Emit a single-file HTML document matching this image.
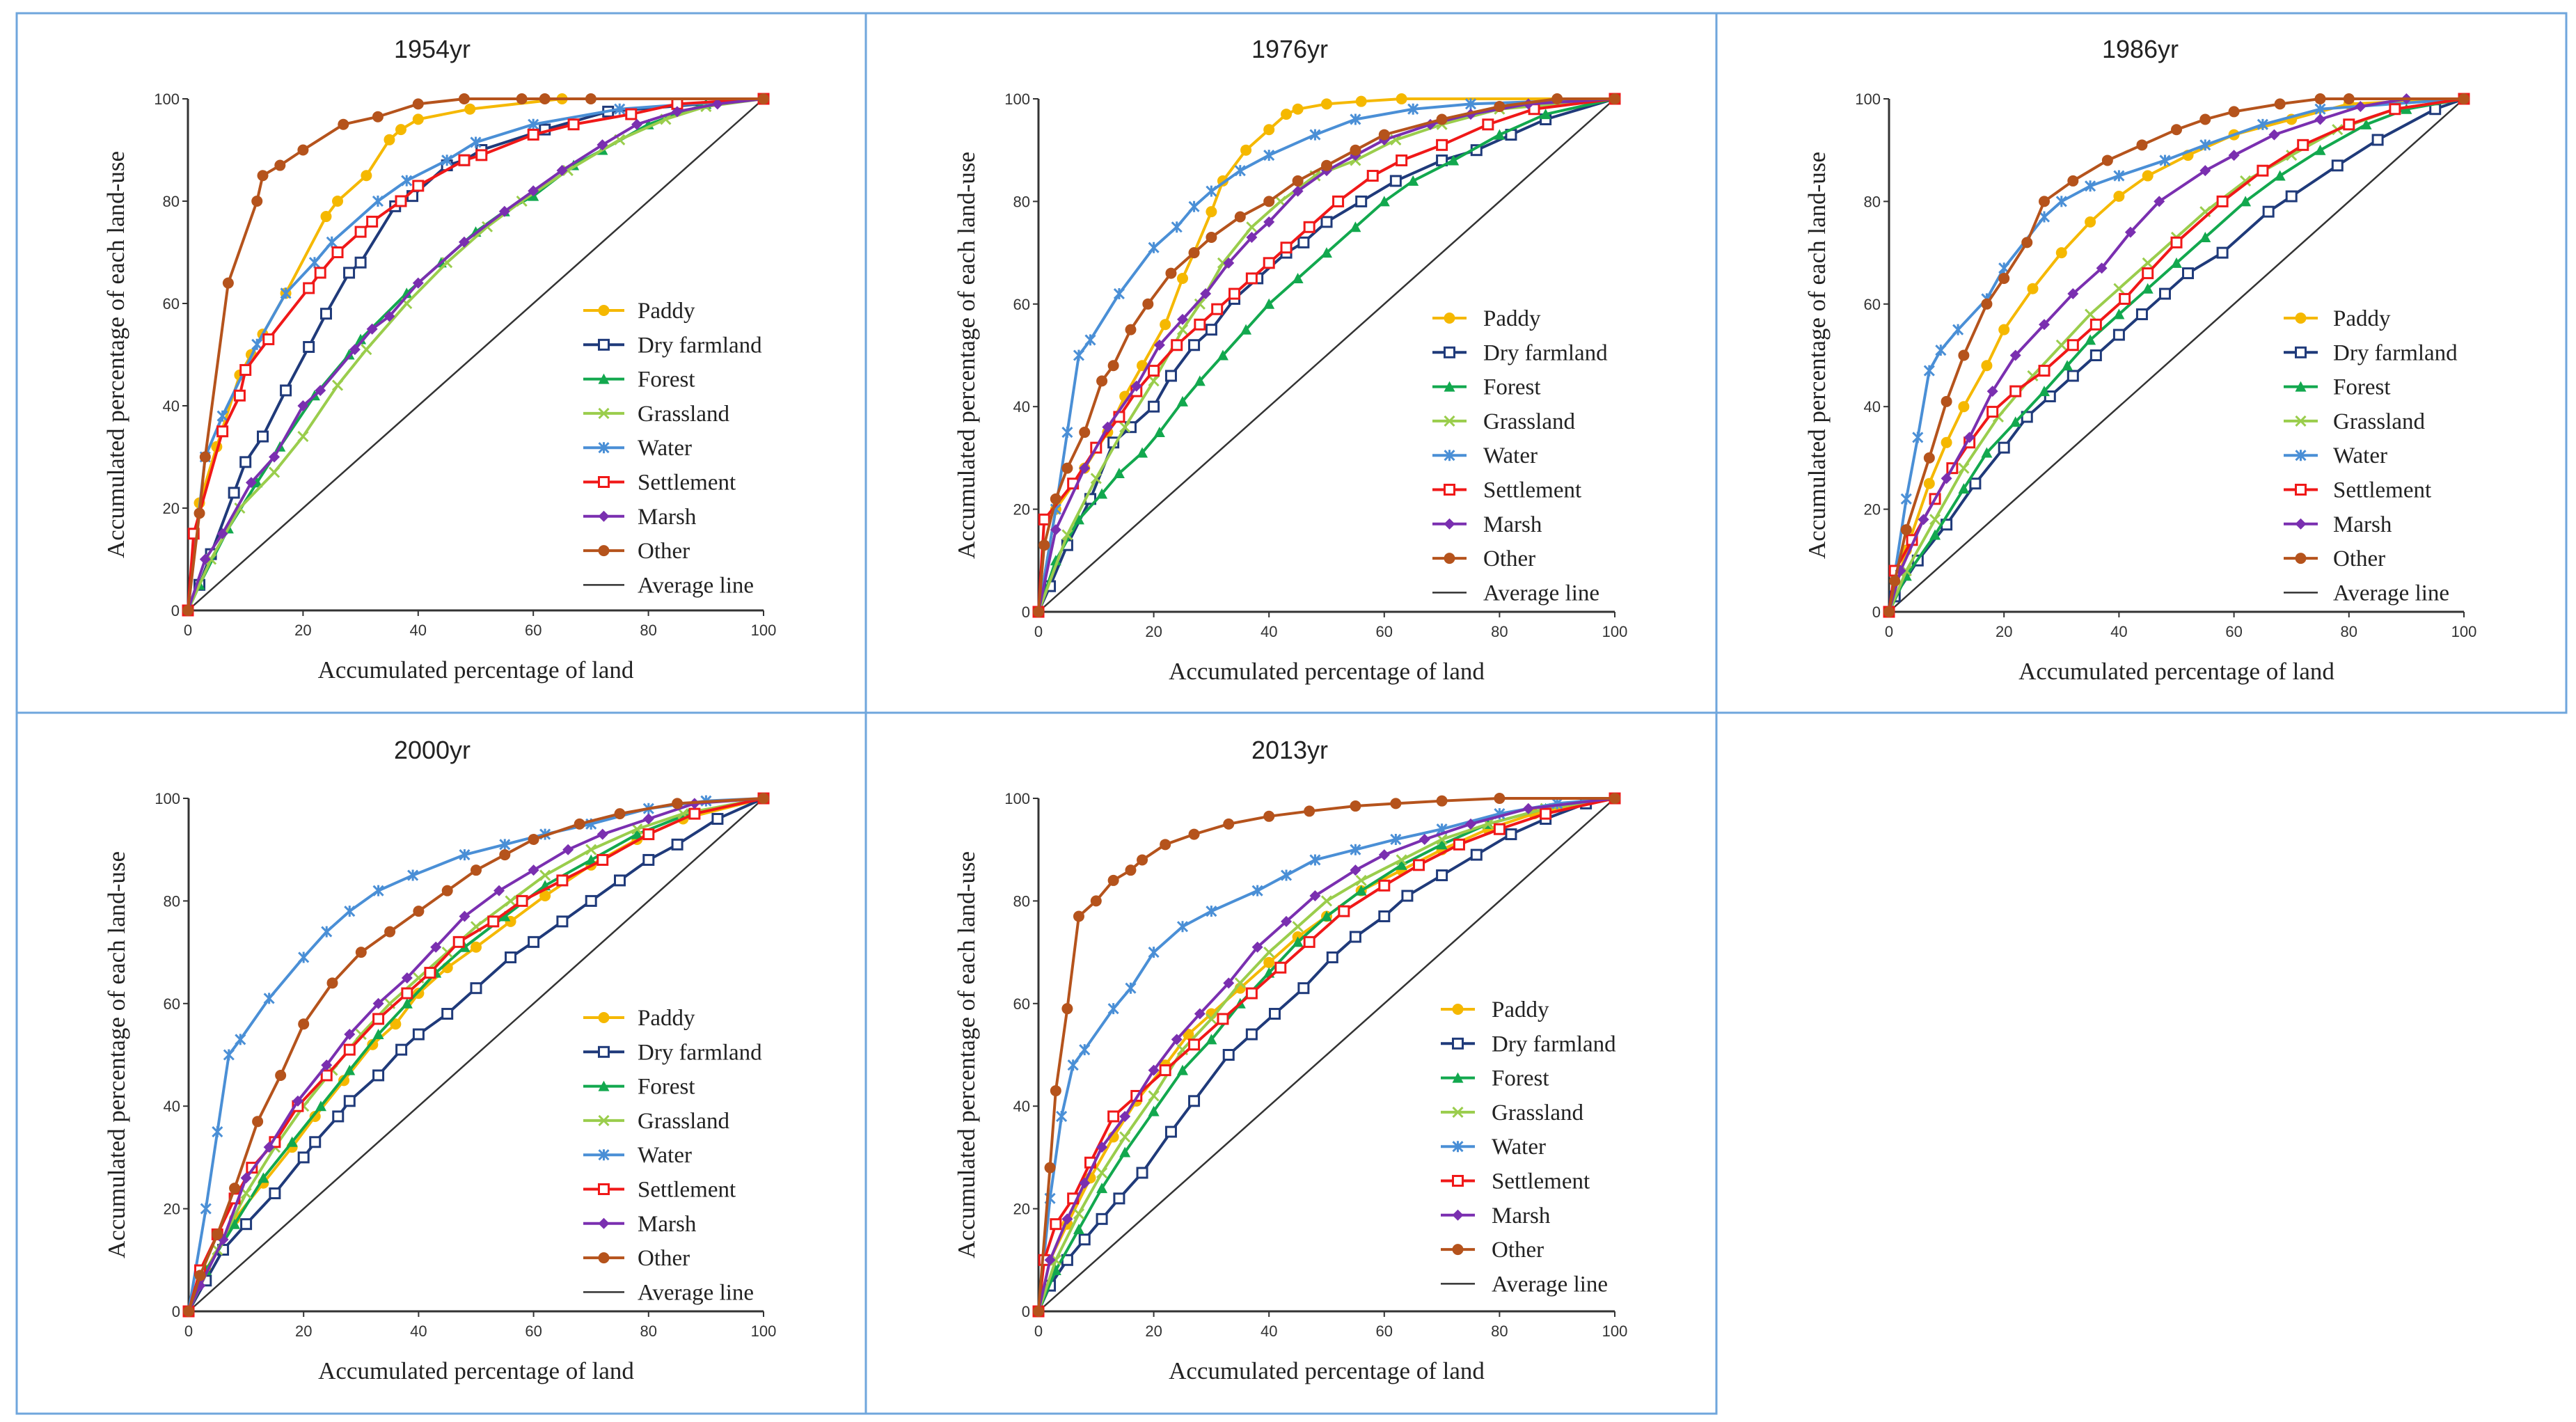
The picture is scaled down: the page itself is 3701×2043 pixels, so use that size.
<!DOCTYPE html>
<html><head><meta charset="utf-8">
<style>
html,body{margin:0;padding:0;background:#fff;}
svg{display:block;}
</style></head>
<body>
<svg id="fig" width="3701" height="2043" viewBox="0 0 3701 2043" xmlns="http://www.w3.org/2000/svg">
<rect x="0" y="0" width="3701" height="2043" fill="#fff"/>
</svg>
<script>
const seriesNames = ["Paddy","Dry farmland","Forest","Grassland","Water","Settlement","Marsh","Other"];
const xTicks = [0,20,40,60,80,100];
const yTicks = [0,20,40,60,80,100];
const panelTitles = ["1954yr","1976yr","1986yr","2000yr","2013yr"];

// 1954
const y1954_paddy = [[0,0],[2,21],[5,32],[9,46],[11,50],[13,54],[17,62],[24,77],[26,80],[31,85],[35,92],[37,94],[40,96],[49,98],[65,100],[100,100]];
const y1954_dry = [[0,0],[2,5],[4,11],[8,23],[10,29],[13,34],[17,43],[21,51.5],[24,58],[28,66],[30,68],[36,79],[39,81],[45,87],[48,88],[51,90],[62,94],[73,97.5],[100,100]];
const y1954_forest = [[0,0],[2,5],[7,16],[12,25],[16,32],[22,42],[28,50],[30,53],[38,62],[44,68],[50,74],[55,78],[60,81],[67,87],[72,90],[80,95],[90,99],[100,100]];
const y1954_grass = [[0,0],[4,10],[9,20],[15,27],[20,34],[26,44],[31,51],[38,60],[45,68],[52,75],[58,80],[66,86],[75,92],[83,96],[90,98.5],[100,100]];
const y1954_water = [[0,0],[3,30],[6,38],[12,52],[17,62],[22,68],[25,72],[33,80],[38,84],[45,88],[50,91.5],[60,95],[75,98],[100,100]];
const y1954_settle = [[0,0],[1,15],[6,35],[9,42],[10,47],[14,53],[21,63],[23,66],[26,70],[30,74],[32,76],[37,80],[40,83],[48,88],[51,89],[60,93],[67,95],[77,97],[85,99],[100,100]];
const y1954_marsh = [[0,0],[3,10],[6,15],[11,25],[15,30],[20,40],[23,43],[29,51],[32,55],[35,57.5],[40,64],[48,72],[55,78],[60,82],[65,86],[72,91],[78,95],[85,97.5],[92,99],[100,100]];
const y1954_other = [[0,0],[2,19],[3,30],[7,64],[12,80],[13,85],[16,87],[20,90],[27,95],[33,96.5],[40,99],[48,100],[58,100],[62,100],[70,100],[100,100]];

// 1976
const y1976_paddy = [[0,0],[3,20],[8,28],[12,35],[15,42],[18,48],[22,56],[25,65],[27,70],[30,78],[32,84],[36,90],[40,94],[43,97],[45,98],[50,99],[56,99.5],[63,100],[100,100]];
const y1976_dry = [[0,0],[2,5],[5,13],[9,22],[13,33],[16,36],[20,40],[23,46],[27,52],[30,55],[34,61],[38,65],[43,70],[46,72],[50,76],[56,80],[62,84],[70,88],[76,90],[82,93],[88,96],[100,100]];
const y1976_forest = [[0,0],[3,10],[7,18],[11,23],[14,27],[18,31],[21,35],[25,41],[28,45],[32,50],[36,55],[40,60],[45,65],[50,70],[55,75],[60,80],[65,84],[72,88],[80,93],[88,97],[100,100]];
const y1976_grass = [[0,0],[5,15],[10,26],[15,36],[20,45],[25,55],[28,60],[32,68],[37,75],[42,80],[48,85],[55,88],[62,92],[70,95],[80,98],[100,100]];
const y1976_water = [[0,0],[3,20],[5,35],[7,50],[9,53],[14,62],[20,71],[24,75],[27,79],[30,82],[35,86],[40,89],[48,93],[55,96],[65,98],[75,99],[100,100]];
const y1976_settle = [[0,0],[1,18],[6,25],[10,32],[14,38],[17,43],[20,47],[24,52],[28,56],[31,59],[34,62],[37,65],[40,68],[43,71],[47,75],[52,80],[58,85],[63,88],[70,91],[78,95],[86,98],[100,100]];
const y1976_marsh = [[0,0],[3,16],[8,28],[12,36],[17,44],[21,52],[25,57],[29,62],[33,68],[37,73],[40,76],[45,82],[50,86],[55,89],[60,92],[68,95],[75,97],[85,99],[100,100]];
const y1976_other = [[0,0],[1,13],[3,22],[5,28],[8,35],[11,45],[13,48],[16,55],[19,60],[23,66],[27,70],[30,73],[35,77],[40,80],[45,84],[50,87],[55,90],[60,93],[70,96],[80,98.5],[90,100],[100,100]];

// 1986
const y1986_paddy = [[0,0],[3,12],[7,25],[10,33],[13,40],[17,48],[20,55],[25,63],[30,70],[35,76],[40,81],[45,85],[52,89],[60,93],[70,96],[80,99],[100,100]];
const y1986_dry = [[0,0],[1,3],[5,10],[10,17],[15,25],[20,32],[24,38],[28,42],[32,46],[36,50],[40,54],[44,58],[48,62],[52,66],[58,70],[66,78],[70,81],[78,87],[85,92],[95,98],[100,100]];
const y1986_forest = [[0,0],[3,7],[8,15],[13,24],[17,31],[22,37],[27,43],[31,48],[35,53],[40,58],[45,63],[50,68],[55,73],[62,80],[68,85],[75,90],[83,95],[90,98],[100,100]];
const y1986_grass = [[0,0],[3,8],[8,18],[13,28],[19,38],[25,46],[30,52],[35,58],[40,63],[45,68],[50,73],[55,78],[62,84],[70,89],[78,94],[88,98],[100,100]];
const y1986_water = [[0,0],[3,22],[5,34],[7,47],[9,51],[12,55],[17,61],[20,67],[27,77],[30,80],[35,83],[40,85],[48,88],[55,91],[65,95],[75,98],[100,100]];
const y1986_settle = [[0,0],[1,8],[4,14],[8,22],[11,28],[14,33],[18,39],[22,43],[27,47],[32,52],[36,56],[41,61],[45,66],[50,72],[58,80],[65,86],[72,91],[80,95],[88,98],[100,100]];
const y1986_marsh = [[0,0],[2,8],[6,18],[10,26],[14,34],[18,43],[22,50],[27,56],[32,62],[37,67],[42,74],[47,80],[55,86],[60,89],[67,93],[75,96],[82,98.5],[90,100],[100,100]];
const y1986_other = [[0,0],[1,6],[3,16],[7,30],[10,41],[13,50],[17,60],[20,65],[24,72],[27,80],[32,84],[38,88],[44,91],[50,94],[55,96],[60,97.5],[68,99],[75,100],[80,100],[100,100]];

// 2000
const y2000_paddy = [[0,0],[3,8],[8,18],[13,25],[18,32],[22,38],[27,45],[32,52],[36,56],[40,62],[45,67],[50,71],[56,76],[62,81],[70,87],[78,92],[86,96],[100,100]];
const y2000_dry = [[0,0],[3,6],[6,12],[10,17],[15,23],[20,30],[22,33],[26,38],[28,41],[33,46],[37,51],[40,54],[45,58],[50,63],[56,69],[60,72],[65,76],[70,80],[75,84],[80,88],[85,91],[92,96],[100,100]];
const y2000_forest = [[0,0],[3,8],[8,17],[13,26],[18,33],[23,40],[28,47],[33,54],[38,60],[43,66],[48,71],[55,77],[62,83],[70,88],[78,93],[87,97],[100,100]];
const y2000_grass = [[0,0],[5,12],[10,23],[15,32],[20,40],[25,47],[30,54],[35,60],[40,65],[45,70],[50,75],[56,80],[62,85],[70,90],[78,94],[86,97],[100,100]];
const y2000_water = [[0,0],[3,20],[5,35],[7,50],[9,53],[14,61],[20,69],[24,74],[28,78],[33,82],[39,85],[48,89],[55,91],[62,93],[70,95],[80,98],[90,99.5],[100,100]];
const y2000_settle = [[0,0],[2,8],[5,15],[8,22],[11,28],[15,33],[19,40],[24,46],[28,51],[33,57],[38,62],[42,66],[47,72],[53,76],[58,80],[65,84],[72,88],[80,93],[88,97],[100,100]];
const y2000_marsh = [[0,0],[2,5],[6,14],[10,26],[14,32],[19,41],[24,48],[28,54],[33,60],[38,65],[43,71],[48,77],[54,82],[60,86],[66,90],[72,93],[80,96],[88,99],[100,100]];
const y2000_other = [[0,0],[2,7],[5,15],[8,24],[12,37],[16,46],[20,56],[25,64],[30,70],[35,74],[40,78],[45,82],[50,86],[55,89],[60,92],[68,95],[75,97],[85,99],[100,100]];

// 2013
const y2013_paddy = [[0,0],[2,10],[5,17],[9,26],[13,34],[17,41],[22,48],[26,54],[30,58],[35,63],[40,68],[45,73],[50,77],[56,82],[63,86],[70,90],[78,94],[86,97],[100,100]];
const y2013_dry = [[0,0],[2,5],[5,10],[8,14],[11,18],[14,22],[18,27],[23,35],[27,41],[33,50],[37,54],[41,58],[46,63],[51,69],[55,73],[60,77],[64,81],[70,85],[76,89],[82,93],[88,96],[95,99],[100,100]];
const y2013_forest = [[0,0],[3,8],[7,16],[11,24],[15,31],[20,39],[25,47],[30,53],[35,60],[40,66],[45,72],[50,77],[56,82],[63,87],[70,91],[78,95],[88,98],[100,100]];
const y2013_grass = [[0,0],[3,10],[7,19],[11,27],[15,34],[20,42],[25,51],[30,57],[35,64],[40,70],[45,75],[50,80],[56,84],[63,88],[70,92],[78,95],[88,98],[100,100]];
const y2013_water = [[0,0],[2,22],[4,38],[6,48],[8,51],[13,59],[16,63],[20,70],[25,75],[30,78],[38,82],[43,85],[48,88],[55,90],[62,92],[70,94],[80,97],[90,99],[100,100]];
const y2013_settle = [[0,0],[1,10],[3,17],[6,22],[9,29],[13,38],[17,42],[22,47],[27,52],[32,57],[37,62],[42,67],[47,72],[53,78],[60,83],[66,87],[73,91],[80,94],[88,97],[100,100]];
const y2013_marsh = [[0,0],[2,10],[5,18],[8,25],[11,32],[15,38],[20,47],[24,53],[28,58],[33,64],[38,71],[43,76],[48,81],[55,86],[60,89],[67,92],[75,95],[85,98],[100,100]];
const y2013_other = [[0,0],[2,28],[3,43],[5,59],[7,77],[10,80],[13,84],[16,86],[18,88],[22,91],[27,93],[33,95],[40,96.5],[47,97.5],[55,98.5],[62,99],[70,99.5],[80,100],[100,100]];

const panelData = [
  [y1954_paddy,y1954_dry,y1954_forest,y1954_grass,y1954_water,y1954_settle,y1954_marsh,y1954_other],
  [y1976_paddy,y1976_dry,y1976_forest,y1976_grass,y1976_water,y1976_settle,y1976_marsh,y1976_other],
  [y1986_paddy,y1986_dry,y1986_forest,y1986_grass,y1986_water,y1986_settle,y1986_marsh,y1986_other],
  [y2000_paddy,y2000_dry,y2000_forest,y2000_grass,y2000_water,y2000_settle,y2000_marsh,y2000_other],
  [y2013_paddy,y2013_dry,y2013_forest,y2013_grass,y2013_water,y2013_settle,y2013_marsh,y2013_other]
];

const colors = ["#f5b800","#1f3a7a","#12a84e","#9acd4c","#4a8fd6","#f01818","#7a2fb0","#b5531c"];
const markers = ["circle","opensq","tri","x","star","opensq","diamond","circle"];
const layout = [
  {ox:270,x1:1097,oy:877,y1:142,title:[621,71],leg:[838,897,916,446],bx:[24,1244],by:[19,1024]},
  {ox:1492,x1:2320,oy:879,y1:142,title:[1853,71],leg:[2058,2107,2131,457],bx:[1244,2466],by:[19,1024]},
  {ox:2714,x1:3540,oy:879,y1:142,title:[3075,71],leg:[3281,3330,3352,457],bx:[2466,3687],by:[19,1024]},
  {ox:271,x1:1097,oy:1884,y1:1147,title:[621,1078],leg:[838,897,916,1462],bx:[24,1244],by:[1024,2031]},
  {ox:1492,x1:2320,oy:1884,y1:1147,title:[1853,1078],leg:[2070,2119,2143,1450],bx:[1244,2466],by:[1024,2031]}
];
const NS="http://www.w3.org/2000/svg";
const svg=document.getElementById('fig');
function mk(tag,attrs,parent){const e=document.createElementNS(NS,tag);for(const k in attrs)e.setAttribute(k,attrs[k]);(parent||svg).appendChild(e);return e;}
function marker(g,type,cx,cy,col){
  let m;
  const r=7;
  if(type==="circle"){m=mk('circle',{cx:cx,cy:cy,r:r+1,fill:col},g);}
  else if(type==="opensq"){m=mk('rect',{x:cx-r,y:cy-r,width:2*r,height:2*r,fill:"#fff",stroke:col,'stroke-width':3},g);}
  else if(type==="tri"){m=mk('polygon',{points:`${cx},${cy-r-1} ${cx+r+1},${cy+r} ${cx-r-1},${cy+r}`,fill:col},g);}
  else if(type==="diamond"){m=mk('polygon',{points:`${cx},${cy-r-1} ${cx+r+1},${cy} ${cx},${cy+r+1} ${cx-r-1},${cy}`,fill:col},g);}
  else if(type==="x"){m=mk('path',{d:`M${cx-r},${cy-r}L${cx+r},${cy+r}M${cx-r},${cy+r}L${cx+r},${cy-r}`,stroke:col,'stroke-width':3},g);}
  else {m=mk('path',{d:`M${cx-r},${cy-r}L${cx+r},${cy+r}M${cx-r},${cy+r}L${cx+r},${cy-r}M${cx},${cy-r-1}L${cx},${cy+r+1}`,stroke:col,'stroke-width':3},g);}
  
  
}
layout.forEach((L,pi)=>{
  const g=mk('g',{});
  
  
  const sx=v=>L.ox+(L.x1-L.ox)*v/100;
  const sy=v=>L.oy-(L.oy-L.y1)*v/100;
  const border=mk('rect',{x:L.bx[0],y:L.by[0],width:L.bx[1]-L.bx[0],height:L.by[1]-L.by[0],fill:"none",stroke:"#6fa6dc",'stroke-width':3},g);
  
  
  const t=mk('text',{x:L.title[0],y:L.title[1]+12,'text-anchor':'middle','font-family':'Liberation Sans, sans-serif','font-size':36,fill:'#222'},g);
  t.textContent=panelTitles[pi];
  
  
  // axes
  const ax=mk('path',{d:`M${sx(0)},${sy(100)}L${sx(0)},${sy(0)}L${sx(100)},${sy(0)}`,stroke:'#333','stroke-width':3,fill:'none'},g);
  
  
  xTicks.forEach(v=>{
    mk('line',{x1:sx(v),x2:sx(v),y1:sy(0),y2:sy(0)+8,stroke:'#333','stroke-width':2},g);
    const tx=mk('text',{x:sx(v),y:sy(0)+36,'text-anchor':'middle','font-family':'Liberation Sans, sans-serif','font-size':22,fill:'#333'},g);
    tx.textContent=v;
    
    
  });
  yTicks.forEach(v=>{
    mk('line',{x1:sx(0)-8,x2:sx(0),y1:sy(v),y2:sy(v),stroke:'#333','stroke-width':2},g);
    const ty=mk('text',{x:sx(0)-12,y:sy(v)+8,'text-anchor':'end','font-family':'Liberation Sans, sans-serif','font-size':22,fill:'#333'},g);
    ty.textContent=v;
    
    
  });
  const xl=mk('text',{x:(sx(0)+sx(100))/2,y:sy(0)+97,'text-anchor':'middle','font-family':'Liberation Serif, serif','font-size':35,fill:'#222'},g);
  xl.textContent='Accumulated percentage of land';
  
  
  const ymid=(sy(0)+sy(100))/2, yx=sx(0)-92;
  const yl=mk('text',{x:yx,y:ymid,'text-anchor':'middle','font-family':'Liberation Serif, serif','font-size':35,fill:'#222',transform:`rotate(-90 ${yx} ${ymid})`},g);
  yl.textContent='Accumulated percentage of each land-use';
  
  
  // average line
  const avg=mk('line',{x1:sx(0),y1:sy(0),x2:sx(100),y2:sy(100),stroke:'#333','stroke-width':2.5},g);
  
  
  // series
  panelData[pi].forEach((pts,si)=>{
    const sg=mk('g',{},g);
    
    
    const p=mk('polyline',{points:pts.map(d=>sx(d[0])+','+sy(d[1])).join(' '),fill:'none',stroke:colors[si],'stroke-width':4},sg);
    
    
    pts.forEach(d=>marker(sg,markers[si],sx(d[0]),sy(d[1]),colors[si]));
  });
  // legend
  const lg=mk('g',{},g);
  
  
  const names=seriesNames.concat(['Average line']);
  names.forEach((n,i)=>{
    const y=L.leg[3]+i*49.3;
    const col=i<8?colors[i]:'#333';
    const eg=mk('g',{},lg);
    
    
    mk('line',{x1:L.leg[0],x2:L.leg[1],y1:y,y2:y,stroke:col,'stroke-width':i<8?4:2.5},eg);
    if(i<8) marker(eg,markers[i],(L.leg[0]+L.leg[1])/2,y,col);
    const tt=mk('text',{x:L.leg[2],y:y+11,'font-family':'Liberation Serif, serif','font-size':33,fill:'#222'},eg);
    tt.textContent=n;
  });
});
</script>
</body></html>
